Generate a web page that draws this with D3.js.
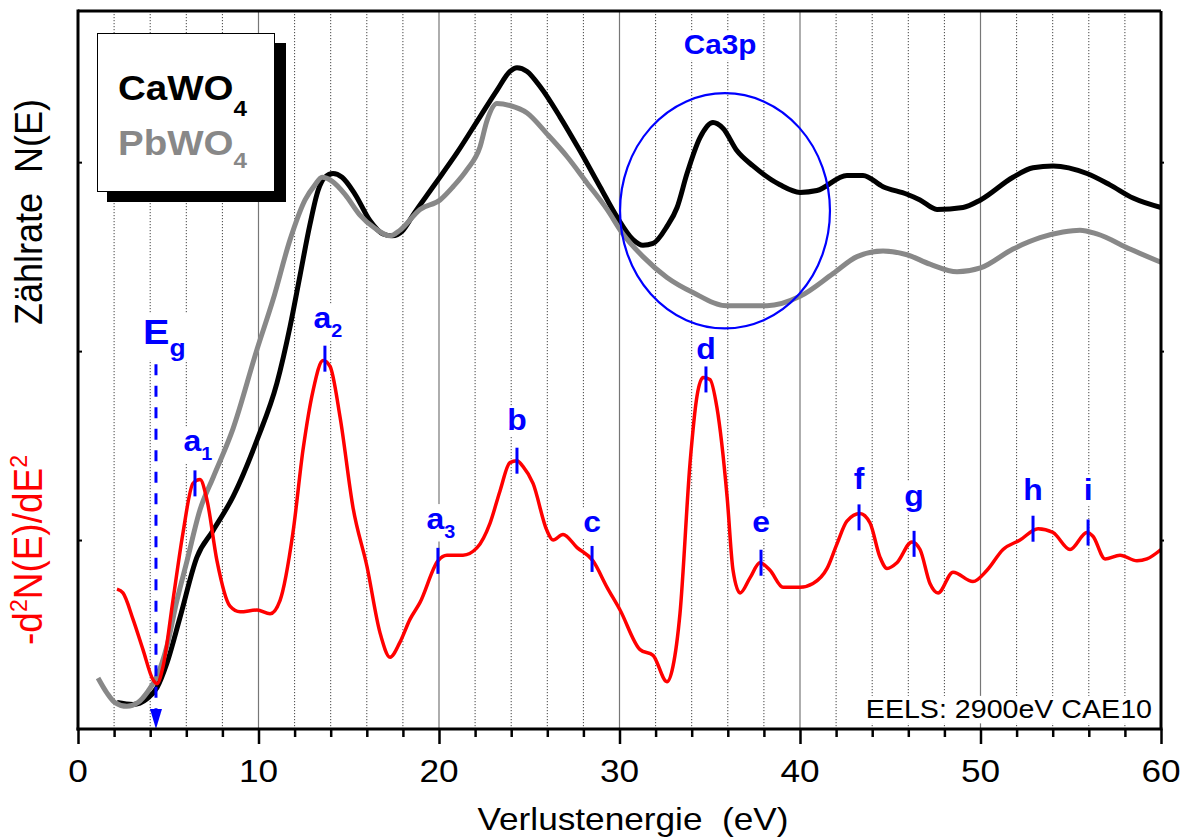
<!DOCTYPE html>
<html><head><meta charset="utf-8">
<script src="https://cdn.jsdelivr.net/npm/d3@7"></script>
<style>
html,body{margin:0;padding:0;background:#fff;}
svg{display:block;font-family:"Liberation Sans",Arial,Helvetica,sans-serif;}
text{white-space:pre;}
</style></head>
<body><svg id="chart" width="1183" height="839"></svg>
<script>
// ---------- data (energy in eV, intensity in arbitrary units) ----------
const cawo4 = [[2.16,0.14],[3.05,0.13],[3.82,0.16],[4.38,0.22],[4.93,0.35],[5.65,0.59],[6.59,0.91],[7.48,1.05],[8.59,1.23],[9.92,1.53],[11.02,1.83],[11.75,2.13],[12.30,2.40],[12.85,2.67],[13.30,2.85],[13.68,2.92],[14.13,2.94],[14.63,2.92],[15.35,2.83],[16.18,2.69],[16.90,2.62],[17.40,2.61],[18.01,2.64],[18.56,2.72],[19.67,2.87],[21.00,3.05],[22.27,3.24],[23.21,3.38],[23.93,3.48],[24.32,3.50],[24.88,3.48],[25.60,3.40],[26.70,3.24],[27.81,3.06],[28.92,2.87],[29.86,2.71],[30.75,2.59],[31.30,2.56],[31.86,2.57],[32.63,2.66],[33.19,2.76],[33.74,2.94],[34.46,3.13],[35.18,3.21],[35.73,3.18],[36.51,3.06],[37.40,2.98],[38.89,2.88],[40.00,2.84],[40.94,2.85],[42.60,2.93],[43.49,2.93],[44.60,2.87],[45.93,2.83],[46.65,2.80],[47.59,2.75],[49.03,2.76],[50.00,2.80],[51.80,2.92],[52.91,2.97],[54.02,2.98],[55.90,2.94],[57.17,2.88],[58.45,2.81],[60.00,2.76]];

const pbwo4 = [[1.11,0.27],[1.61,0.19],[2.05,0.14],[2.71,0.12],[3.32,0.14],[3.88,0.20],[4.38,0.28],[4.93,0.44],[5.48,0.68],[6.04,0.89],[6.76,1.16],[7.48,1.33],[8.59,1.59],[9.92,2.01],[10.80,2.27],[11.75,2.59],[12.58,2.80],[13.13,2.88],[13.52,2.92],[14.07,2.90],[14.79,2.83],[15.62,2.72],[16.45,2.65],[17.29,2.61],[17.84,2.64],[18.95,2.75],[20.06,2.80],[20.78,2.87],[21.55,2.96],[22.27,3.08],[22.66,3.22],[23.21,3.31],[23.93,3.30],[24.88,3.26],[25.98,3.15],[27.09,3.03],[28.20,2.89],[29.31,2.75],[30.19,2.62],[31.30,2.50],[32.63,2.39],[34.07,2.31],[35.96,2.24],[38.17,2.24],[40.00,2.29],[41.83,2.41],[43.16,2.50],[44.60,2.53],[45.93,2.51],[47.20,2.46],[48.70,2.42],[50.00,2.44],[51.80,2.54],[53.30,2.60],[54.57,2.63],[55.51,2.64],[56.45,2.62],[58.28,2.54],[60.00,2.47]];

const d2n = [[2.16,0.74],[2.49,0.72],[3.05,0.58],[3.60,0.42],[4.16,0.26],[4.38,0.24],[4.71,0.33],[5.26,0.68],[5.82,1.04],[6.37,1.30],[6.76,1.32],[7.15,1.21],[7.70,0.89],[8.42,0.65],[8.98,0.62],[9.92,0.63],[10.64,0.61],[11.19,0.68],[11.91,1.04],[12.47,1.48],[13.02,1.79],[13.57,1.95],[13.96,1.92],[14.52,1.65],[15.24,1.17],[16.01,0.86],[16.73,0.51],[17.29,0.38],[17.84,0.46],[18.39,0.58],[18.95,0.67],[19.94,0.89],[20.44,0.92],[21.33,0.92],[22.11,0.96],[22.83,1.09],[23.38,1.26],[23.93,1.41],[24.32,1.42],[24.65,1.39],[25.21,1.30],[25.98,1.05],[26.32,1.00],[26.87,1.03],[27.65,0.96],[28.53,0.89],[29.31,0.75],[30.03,0.63],[31.14,0.42],[31.86,0.39],[32.63,0.25],[32.96,0.33],[33.35,0.61],[33.91,1.41],[34.29,1.76],[34.63,1.86],[35.01,1.85],[35.40,1.70],[35.96,1.23],[36.29,0.84],[36.68,0.72],[37.23,0.80],[37.78,0.88],[38.34,0.84],[39.06,0.75],[40.00,0.75],[40.72,0.77],[41.50,0.85],[42.05,0.98],[42.60,1.10],[43.32,1.14],[43.88,1.09],[44.43,0.91],[44.82,0.85],[45.37,0.88],[46.20,0.99],[46.65,0.95],[47.20,0.77],[47.65,0.72],[48.48,0.83],[49.58,0.78],[50.36,0.84],[51.25,0.95],[52.19,1.00],[53.19,1.06],[54.02,1.04],[54.96,0.95],[55.90,1.04],[56.23,1.02],[56.90,0.90],[57.73,0.92],[58.67,0.89],[59.22,0.90],[60.00,0.95]];

// peak annotations
const peakNames = ["a","a","a","b","c","d","e","f","g","h","i"];
const peakSubs  = ["1","2","3","","","","","","","",""];
const peakE     = [6.48,13.68,19.94,24.32,28.48,34.79,37.84,43.27,46.32,52.91,55.96];
const peakV     = [1.30,1.96,0.89,1.42,0.90,1.85,0.88,1.12,0.98,1.06,1.04];
const labelV    = [1.47,2.12,1.06,1.58,1.04,1.96,1.04,1.27,1.18,1.21,1.21];

const egE = 4.32, egTopV = 1.93, egLabelE = 3.6, egLabelV = 2.04;
const ca3pE = [30.03, 41.66], ca3pV = [2.12, 3.365], ca3pLabel = [35.57, 3.57];

const xTicks = [0,10,20,30,40,50,60];
const xMinor = d3.range(0,61,2);
const yTicks = [1,2,3];
const legendNames = ["CaWO","PbWO"];

// ---------- layout ----------
const svg = d3.select("#chart");
const L = 78, R = 1161, T = 11, B = 729;
const x = d3.scaleLinear().domain([0,60]).range([L,R]);
const y = d3.scaleLinear().domain([0,3.8]).range([B,T]);
const SX = 1.1; // horizontal text stretch of the original

const blue = "#0000ff";

// gridlines
const grid = svg.append("g");
grid.selectAll("line.minor").data(xMinor.filter(d => d%10 !== 0)).join("line")
  .attr("x1", d=>x(d)).attr("x2", d=>x(d)).attr("y1", T).attr("y2", B)
  .attr("stroke", "#444").attr("stroke-width", 1).attr("stroke-dasharray", "1.2,1.8");
grid.selectAll("line.major").data(xTicks.slice(1,-1)).join("line")
  .attr("x1", d=>x(d)).attr("x2", d=>x(d)).attr("y1", T).attr("y2", B)
  .attr("stroke", "#777").attr("stroke-width", 1.2);

const bgLayer = svg.append("g");
const curveLayer = svg.append("g");
const fgLayer = svg.append("g");

// helper: stretched text with optional white background
function label(parent, px, py, anchor, size, weight, color, parts, bg) {
  const g = parent.append("g").attr("transform", `translate(${px},${py}) scale(${SX},1)`);
  const t = g.append("text").attr("text-anchor", anchor).attr("font-size", size)
    .attr("font-weight", weight).attr("fill", color);
  parts.forEach(p => {
    const ts = t.append("tspan").text(p.t);
    if (p.size) ts.attr("font-size", p.size);
    if (p.dy) ts.attr("dy", p.dy);
  });
  if (bg) {
    const bb = t.node().getBBox();
    bgLayer.append("rect").attr("transform", `translate(${px},${py}) scale(${SX},1)`)
      .attr("x", bb.x - 2).attr("y", bb.y + 2).attr("width", bb.width + 4).attr("height", bb.height - 2)
      .attr("fill", "#fff");
  }
  return g;
}

// curves
const line = d3.line().x(d=>x(d[0])).y(d=>y(d[1])).curve(d3.curveMonotoneX);
curveLayer.append("path").datum(cawo4).attr("d", line).attr("fill","none")
  .attr("stroke","#000").attr("stroke-width",5).attr("stroke-linejoin","round");
curveLayer.append("path").datum(pbwo4).attr("d", line).attr("fill","none")
  .attr("stroke","#888").attr("stroke-width",5).attr("stroke-linejoin","round");
curveLayer.append("path").datum(d2n).attr("d", line).attr("fill","none")
  .attr("stroke","#ff0000").attr("stroke-width",3.5).attr("stroke-linejoin","round");

// Ca3p ellipse
fgLayer.append("ellipse")
  .attr("cx", (x(ca3pE[0])+x(ca3pE[1]))/2).attr("cy", (y(ca3pV[0])+y(ca3pV[1]))/2)
  .attr("rx", (x(ca3pE[1])-x(ca3pE[0]))/2).attr("ry", (y(ca3pV[0])-y(ca3pV[1]))/2)
  .attr("fill","none").attr("stroke", blue).attr("stroke-width", 2.2);
label(fgLayer, x(ca3pLabel[0]), y(ca3pLabel[1]), "middle", 27, "bold", blue, [{t:"Ca3p"}], true);

// peak markers and labels
peakE.forEach((e,i) => {
  fgLayer.append("line").attr("x1", x(e)).attr("x2", x(e))
    .attr("y1", y(peakV[i]) - 13).attr("y2", y(peakV[i]) + 13)
    .attr("stroke", blue).attr("stroke-width", 3);
  const parts = [{t: peakNames[i]}];
  if (peakSubs[i]) parts.push({t: peakSubs[i], size: 18, dy: 9});
  label(fgLayer, x(e) + (peakSubs[i] ? 3 : 0), y(labelV[i]), "middle", 29, "bold", blue, parts, true);
});

// Eg
fgLayer.append("line").attr("x1", x(egE)).attr("x2", x(egE))
  .attr("y1", y(egTopV)).attr("y2", y(0) - 18)
  .attr("stroke", blue).attr("stroke-width", 3).attr("stroke-dasharray", "11,10.5");
fgLayer.append("path")
  .attr("d", `M${x(egE)-6},${y(0)-20} L${x(egE)+6},${y(0)-20} L${x(egE)},${y(0)} Z`)
  .attr("fill", blue);
label(fgLayer, x(egLabelE), y(egLabelV), "start", 36, "bold", blue,
  [{t:"E"},{t:"g", size:24, dy:12}], true);

// EELS note
label(fgLayer, x(59.5), y(0.06), "end", 26, "normal", "#000", [{t:"EELS: 2900eV CAE10"}], true);

// legend
const leg = svg.append("g");
leg.append("rect").attr("x",107).attr("y",43).attr("width",179).attr("height",159).attr("fill","#000");
leg.append("rect").attr("x",97.5).attr("y",33.5).attr("width",177).attr("height",158)
  .attr("fill","#fff").attr("stroke","#000").attr("stroke-width",1);
label(leg, 118, 100, "start", 35, "bold", "#000", [{t:legendNames[0]},{t:"4", size:22, dy:16}], false);
label(leg, 118, 155, "start", 35, "bold", "#888", [{t:legendNames[1]},{t:"4", size:22, dy:13}], false);

// frame / axes
const ax = svg.append("g");
ax.append("line").attr("x1",L).attr("x2",R).attr("y1",T).attr("y2",T).attr("stroke","#000").attr("stroke-width",3);
ax.append("line").attr("x1",R).attr("x2",R).attr("y1",T).attr("y2",B).attr("stroke","#000").attr("stroke-width",3);
ax.append("line").attr("x1",L).attr("x2",L).attr("y1",T-1.5).attr("y2",B+1.5).attr("stroke","#000").attr("stroke-width",3);

const xAxis = d3.axisBottom(x).tickValues(xMinor).tickSize(8).tickFormat("");
const xg = ax.append("g").attr("transform",`translate(0,${B})`).call(xAxis);
xg.select(".domain").attr("stroke-width",3).attr("d",`M${L-1.5},0H${R+1.5}`);
xg.selectAll(".tick line").attr("stroke-width",2.5)
  .attr("y2", d => d%10===0 ? 15 : 8);
xTicks.forEach(t => label(ax, x(t), 782, "middle", 32, "normal", "#000", [{t:String(t)}], false));

// y ticks (small, both sides)
const yAxisL = d3.axisLeft(y).tickValues(yTicks).tickSize(-4).tickFormat("");
const yl = ax.append("g").attr("transform",`translate(${L},0)`).call(yAxisL);
yl.select(".domain").remove();
yl.selectAll(".tick line").attr("stroke-width",2);
const yAxisR = d3.axisRight(y).tickValues(yTicks).tickSize(3).tickFormat("");
const yr = ax.append("g").attr("transform",`translate(${R},0)`).call(yAxisR);
yr.select(".domain").remove();
yr.selectAll(".tick line").attr("stroke-width",2);

// axis titles
label(ax, 633, 830, "middle", 32, "normal", "#000", [{t:"Verlustenergie\u00A0 (eV)"}], false);
ax.append("text").attr("transform","translate(42,212) rotate(-90) scale(1,1.08)")
  .attr("text-anchor","middle").attr("font-size",36).attr("fill","#000")
  .text("Zählrate\u00A0 N(E)");
const yt2 = ax.append("text").attr("transform","translate(42,550) rotate(-90) scale(1,1.08)")
  .attr("text-anchor","middle").attr("font-size",37).attr("fill","#ff0000");
yt2.append("tspan").text("-d");
yt2.append("tspan").text("2").attr("font-size",23).attr("dy",-14);
yt2.append("tspan").text("N(E)/dE").attr("dy",14);
yt2.append("tspan").text("2").attr("font-size",23).attr("dy",-14);
</script></body></html>
